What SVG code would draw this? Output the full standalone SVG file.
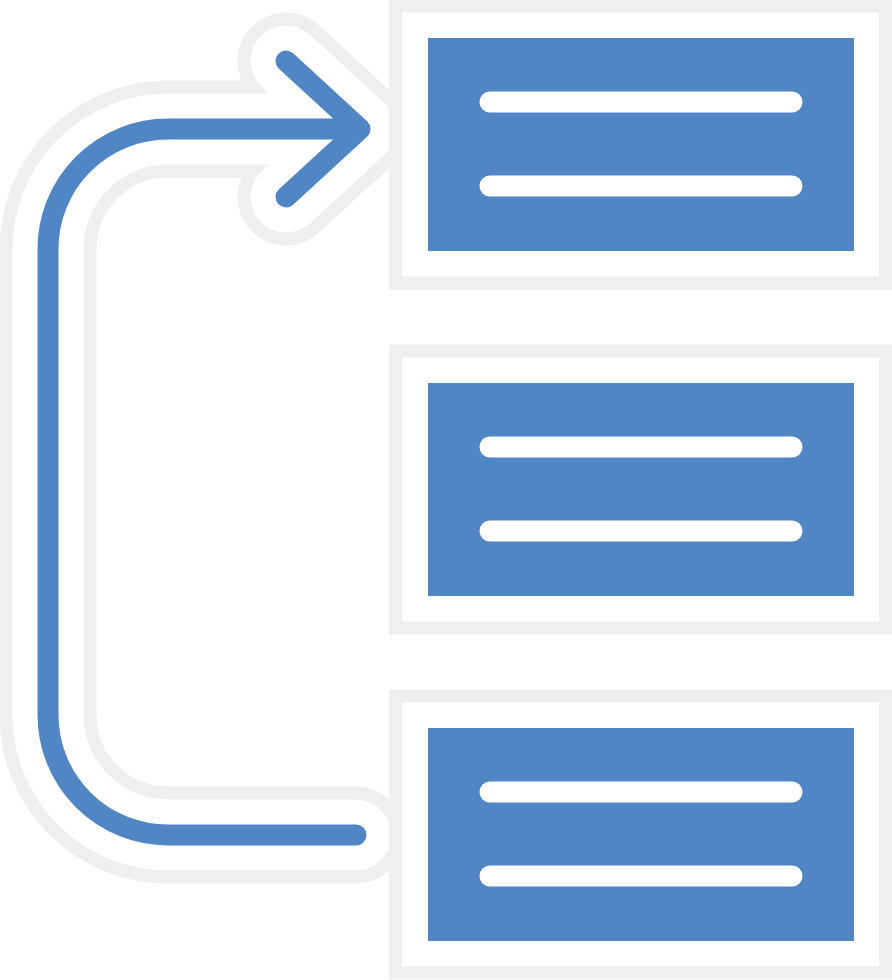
<svg xmlns="http://www.w3.org/2000/svg" width="892" height="980" viewBox="0 0 892 980">
<style>
.halo{fill:none;stroke:#efefef;stroke-width:97;stroke-linecap:round;stroke-linejoin:round}
.haloin{fill:none;stroke:#ffffff;stroke-width:71;stroke-linecap:round;stroke-linejoin:round}
.arrow{fill:none;stroke:#4f86c3;stroke-width:21;stroke-linecap:round;stroke-linejoin:round}
.frame{fill:#ffffff;stroke:#efefef;stroke-width:13}
.panel{fill:#4f86c3}
.bar{stroke:#ffffff;stroke-width:21;stroke-linecap:round}
</style>
<defs>
<path id="ap" d="M356,835 H168 A120,120 0 0 1 48,715 V249 A120,120 0 0 1 168,129 H360 M286,61 L360,129 L286,197"/>
</defs>
<rect width="892" height="980" fill="#ffffff"/>
<g id="connectors">
<use href="#ap" class="halo"/>
<use href="#ap" class="haloin"/>
<use href="#ap" class="arrow"/>
</g>
<g id="box1">
<rect class="frame" x="395.5" y="6" width="490" height="277"/>
<rect class="panel" x="428" y="38" width="426" height="213"/>
<line class="bar" x1="490" y1="102" x2="792" y2="102"/>
<line class="bar" x1="490" y1="186" x2="792" y2="186"/>
</g>
<g id="box2">
<rect class="frame" x="395.5" y="351" width="490" height="277"/>
<rect class="panel" x="428" y="383" width="426" height="213"/>
<line class="bar" x1="490" y1="447" x2="792" y2="447"/>
<line class="bar" x1="490" y1="531" x2="792" y2="531"/>
</g>
<g id="box3">
<rect class="frame" x="395.5" y="696" width="490" height="277"/>
<rect class="panel" x="428" y="728" width="426" height="213"/>
<line class="bar" x1="490" y1="792" x2="792" y2="792"/>
<line class="bar" x1="490" y1="876" x2="792" y2="876"/>
</g>
</svg>
